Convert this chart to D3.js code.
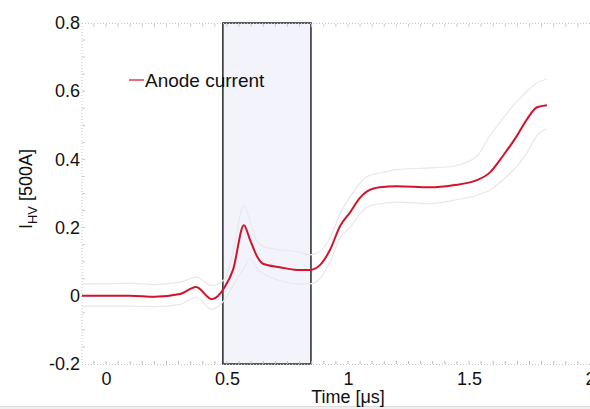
<!DOCTYPE html>
<html><head><meta charset="utf-8">
<script src="https://cdn.jsdelivr.net/npm/d3@7"></script>
<style>body{margin:0;background:#fff;}svg{display:block;font-family:"Liberation Sans",Arial,sans-serif;}</style>
</head><body>
<svg id="c" width="590" height="409"></svg>
<script>
// Data
const times   = [-0.099,0.0,0.1,0.2,0.306,0.372,0.438,0.492,0.525,0.570,0.595,0.624,0.649,0.719,0.789,0.843,0.884,0.926,0.967,1.008,1.050,1.079,1.132,1.202,1.339,1.434,1.533,1.587,1.640,1.698,1.740,1.781,1.822];
const anode   = [0.0,0.0,0.0,-0.003,0.005,0.026,-0.01,0.027,0.076,0.207,0.165,0.116,0.094,0.084,0.076,0.076,0.09,0.135,0.204,0.244,0.288,0.306,0.318,0.321,0.318,0.324,0.339,0.362,0.41,0.469,0.518,0.553,0.559];
const upper   = [0.035,0.035,0.037,0.033,0.04,0.055,0.03,0.05,0.13,0.265,0.22,0.16,0.145,0.135,0.13,0.12,0.13,0.17,0.24,0.29,0.33,0.35,0.36,0.37,0.375,0.38,0.41,0.47,0.52,0.57,0.6,0.625,0.635];
const lower   = [-0.03,-0.03,-0.03,-0.032,-0.025,-0.005,-0.04,-0.01,0.03,0.08,0.11,0.08,0.065,0.045,0.035,0.035,0.05,0.1,0.17,0.2,0.24,0.26,0.27,0.275,0.27,0.28,0.295,0.31,0.34,0.38,0.42,0.47,0.49];
const highlight = [0.483, 0.847];
const xTicks = [0, 0.5, 1, 1.5, 2];
const yTicks = [-0.2, 0, 0.2, 0.4, 0.6, 0.8];
const legendLabel = "Anode current";

const svg = d3.select("#c");
const x = d3.scaleLinear().domain([-0.099, 2]).range([82, 590]);
const y = d3.scaleLinear().domain([-0.2, 0.8]).range([364, 23]);
const fmt = d => String(+d.toFixed(2));

// bottom strip (page edge)
svg.append("rect").attr("x",0).attr("y",406).attr("width",590).attr("height",3).attr("fill","#f0f0f0");
svg.append("line").attr("x1",0).attr("x2",590).attr("y1",406.5).attr("y2",406.5).attr("stroke","#dcdcdc");

// highlight box
svg.append("rect")
  .attr("x", x(highlight[0])).attr("y", y(0.8))
  .attr("width", x(highlight[1]) - x(highlight[0]))
  .attr("height", y(-0.2) - y(0.8))
  .attr("fill", "#f3f3fb").attr("stroke", "#33333c").attr("stroke-width", 1.6);

// frame (dotted light)
const frame = svg.append("g").attr("stroke","#c8c8c8").attr("stroke-width",1).attr("stroke-dasharray","1,2").attr("fill","none");
frame.append("line").attr("x1",82).attr("x2",82).attr("y1",23).attr("y2",364);
frame.append("line").attr("x1",82).attr("x2",590).attr("y1",23.5).attr("y2",23.5);
frame.append("line").attr("x1",82).attr("x2",590).attr("y1",364.5).attr("y2",364.5);

// minor ticks
const minorX = d3.range(-0.05, 2.0, 0.05);
svg.append("g").selectAll("line").data(minorX).join("line")
  .attr("x1",d=>x(d)).attr("x2",d=>x(d)).attr("y1",361).attr("y2",364)
  .attr("stroke","#bbb");
svg.append("g").selectAll("line").data(minorX).join("line")
  .attr("x1",d=>x(d)).attr("x2",d=>x(d)).attr("y1",24).attr("y2",27)
  .attr("stroke","#ccc");
const minorY = d3.range(-0.15, 0.8, 0.05);
svg.append("g").selectAll("line").data(minorY).join("line")
  .attr("x1",82).attr("x2",85).attr("y1",d=>y(d)).attr("y2",d=>y(d))
  .attr("stroke","#ccc");

// axes via d3
const xAxis = d3.axisBottom(x).tickValues(xTicks).tickSize(0).tickPadding(7).tickFormat(fmt);
const gx = svg.append("g").attr("transform","translate(0,365)").call(xAxis);
gx.select(".domain").remove();
gx.selectAll("text").attr("font-size",18).attr("fill","#111").attr("font-family","Liberation Sans, Arial, sans-serif");

const yAxis = d3.axisLeft(y).tickValues(yTicks).tickSize(0).tickPadding(2).tickFormat(fmt);
const gy = svg.append("g").attr("transform","translate(82,0)").call(yAxis);
gy.select(".domain").remove();
gy.selectAll("text").attr("font-size",18).attr("fill","#111").attr("font-family","Liberation Sans, Arial, sans-serif");

// envelopes
const line = d3.line().x((d,i)=>x(times[i])).y(d=>y(d)).curve(d3.curveMonotoneX);
svg.append("path").datum(upper).attr("d",line).attr("fill","none").attr("stroke","#e8e8ec").attr("stroke-width",1.2);
svg.append("path").datum(lower).attr("d",line).attr("fill","none").attr("stroke","#e8e8ec").attr("stroke-width",1.2);
// main curve
svg.append("path").datum(anode).attr("d",line).attr("fill","none").attr("stroke","#d3132b").attr("stroke-width",2);

// legend
svg.append("line").attr("x1",129).attr("x2",144).attr("y1",80).attr("y2",80).attr("stroke","#e04050").attr("stroke-width",1.5);
svg.append("text").attr("x",145).attr("y",87).attr("font-size",19).attr("fill","#111").text(legendLabel);

// axis labels
svg.append("text").attr("x",348).attr("y",403).attr("text-anchor","middle").attr("font-size",18).attr("fill","#111")
  .text("Time [\u03bcs]");
const yl = svg.append("text").attr("transform","translate(32,189) rotate(-90)").attr("text-anchor","middle").attr("font-size",18).attr("fill","#111");
yl.append("tspan").text("I");
yl.append("tspan").attr("font-size",13).attr("dy",5).text("HV");
yl.append("tspan").attr("dy",-5).text(" [500A]");
</script>
</body></html>
